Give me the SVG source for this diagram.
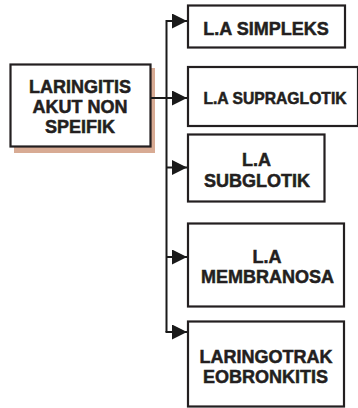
<svg xmlns="http://www.w3.org/2000/svg" width="358" height="408" viewBox="0 0 358 408">
  <defs>
    <marker id="arrow" markerUnits="userSpaceOnUse" markerWidth="16" markerHeight="16" refX="15" refY="7.5" orient="auto">
      <path d="M0,0 L15,7.5 L0,15 Z" fill="#1a1a1a"/>
    </marker>
  </defs>
  <style>
    .box { fill: #ffffff; stroke: #231f20; stroke-width: 2.2; }
    .shadow { fill: #d8ab94; }
    .lbl { font-family: "Liberation Sans", Arial, Helvetica, sans-serif; font-weight: bold; font-size: 18px; fill: #231f20; stroke: #231f20; stroke-width: 0.5; text-anchor: middle; }
    .small { font-size: 15.7px; }
    .wire { fill: none; stroke: #1a1a1a; stroke-width: 2; }
  </style>
  <rect width="358" height="408" fill="#ffffff"/>

  <!-- root node with drop shadow -->
  <g id="root">
    <rect class="shadow" x="14" y="68" width="141" height="85"/>
    <rect class="box" x="10.5" y="64.5" width="140" height="82"/>
    <text class="lbl" x="80" y="92.5">LARINGITIS</text>
    <text class="lbl" x="80" y="112.5">AKUT NON</text>
    <text class="lbl" x="80" y="132.5">SPEIFIK</text>
  </g>

  <!-- connectors: trunk with branches -->
  <g id="connectors">
    <path class="wire" d="M151,98 H187" marker-end="url(#arrow)"/>
    <path class="wire" d="M166.5,332 V21 H187" marker-end="url(#arrow)"/>
    <path class="wire" d="M166.5,167.5 H187" marker-end="url(#arrow)"/>
    <path class="wire" d="M166.5,257 H187" marker-end="url(#arrow)"/>
    <path class="wire" d="M165.5,332 H187" marker-end="url(#arrow)"/>
  </g>

  <g id="simpleks">
    <rect class="box" x="188" y="5.5" width="157" height="42"/>
    <text class="lbl" x="266" y="35">L.A SIMPLEKS</text>
  </g>

  <g id="supraglotik">
    <rect class="box" x="188" y="67" width="170" height="59"/>
    <text class="lbl small" x="275" y="104">L.A SUPRAGLOTIK</text>
  </g>

  <g id="subglotik">
    <rect class="box" x="188" y="134.5" width="136.5" height="67"/>
    <text class="lbl" x="256.5" y="166">L.A</text>
    <text class="lbl" x="257" y="187">SUBGLOTIK</text>
  </g>

  <g id="membranosa">
    <rect class="box" x="188" y="223.5" width="156" height="83"/>
    <text class="lbl" x="267" y="262.5">L.A</text>
    <text class="lbl" x="267.5" y="282.5">MEMBRANOSA</text>
  </g>

  <g id="laringotrakeobronkitis">
    <rect class="box" x="188" y="321.5" width="156" height="85"/>
    <text class="lbl" x="266" y="362.5">LARINGOTRAK</text>
    <text class="lbl" x="265.5" y="382.5">EOBRONKITIS</text>
  </g>
</svg>
